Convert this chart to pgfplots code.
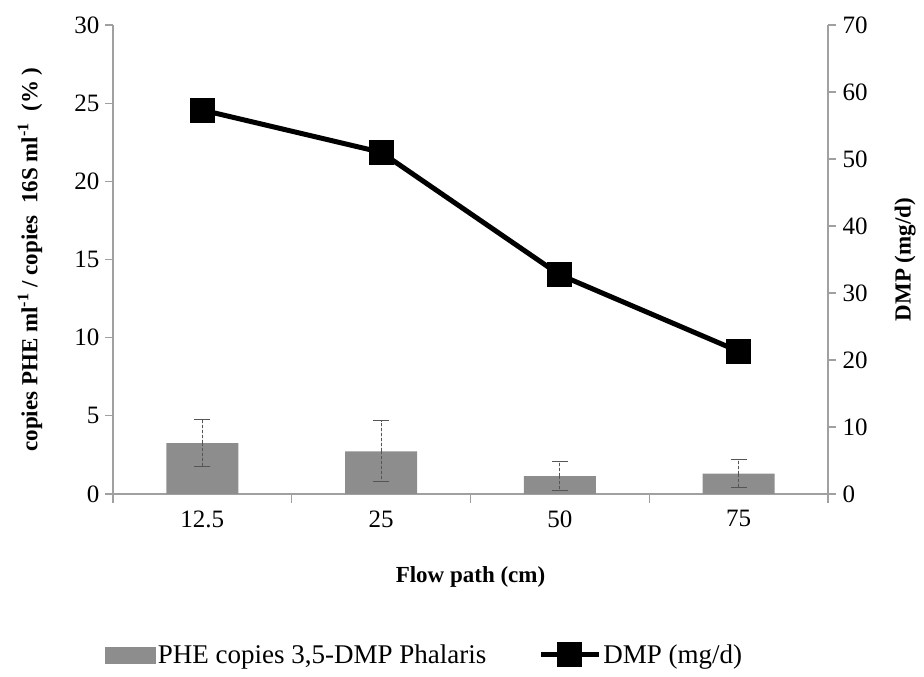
\documentclass[border=0pt]{standalone}
\usepackage{fontspec}
\setmainfont{Liberation Serif}
\usepackage{pgfplots}
\pgfplotsset{compat=1.18}
\definecolor{axisgray}{RGB}{160,160,160}
\definecolor{bargray}{RGB}{141,141,141}
\definecolor{errgray}{RGB}{85,85,85}
\begin{document}
\begin{tikzpicture}[font=\fontsize{25}{28}\selectfont]
\begin{axis}[
  name=ax,
  scale only axis, width=715pt, height=469pt,
  xmin=-0.5, xmax=3.5, ymin=0, ymax=30,
  axis y line*=left, axis x line*=bottom,
  axis line style={axisgray, line width=1.2pt, -},
  xtick={0,1,2,3}, xticklabels={12.5,25,50,75},
  minor xtick={-0.5,0.5,1.5,2.5,3.5},
  ytick={0,5,...,30},
  tick style={axisgray, line width=1.2pt},
  major x tick style={draw=none},
  tick align=outside, major tick length=8pt, minor tick length=9pt,
  /pgf/number format/assume math mode=true,
  xticklabel style={yshift=-5pt},
  yticklabel style={xshift=-2pt},
  every axis y label/.style={at={(axis description cs:-0.116,0.5)}, rotate=90, anchor=center, font=\bfseries\fontsize{23}{25}\selectfont},
  every axis x label/.style={at={(axis description cs:0.5,-0.177)}, anchor=center, font=\bfseries\fontsize{23}{25}\selectfont},
  ylabel={copies PHE ml\textsuperscript{-1} / copies~~16S ml\textsuperscript{-1}~~(\%~)},
  xlabel={Flow path (cm)},
]
\addplot[ybar, bar width=72pt, fill=bargray, draw=none,
  error bars/.cd, y dir=both, y explicit,
  error bar style={errgray, densely dashed, line width=1pt},
  error mark options={rotate=90, mark size=8pt, errgray, line width=1pt}]
  coordinates {
  (0,3.26) +- (0,1.50)
  (1,2.73) +- (0,1.95)
  (2,1.15) +- (0,0.90)
  (3,1.31) +- (0,0.90)
  };
\end{axis}
\begin{axis}[
  scale only axis, width=715pt, height=469pt,
  xmin=-0.5, xmax=3.5, ymin=0, ymax=70,
  axis y line*=right, axis x line=none,
  axis line style={axisgray, line width=1.2pt, -},
  ytick={0,10,...,70},
  tick style={axisgray, line width=1.2pt},
  tick align=outside, major tick length=8pt,
  /pgf/number format/assume math mode=true,
  yticklabel style={xshift=3pt},
  every axis y label/.style={at={(axis description cs:1.108,0.5)}, rotate=90, anchor=center, font=\bfseries\fontsize{23}{25}\selectfont},
  ylabel={DMP (mg/d)},
  legend style={at={(axis description cs:0.436,-0.343)}, anchor=center, draw=none,
    legend columns=2, nodes={inner xsep=2pt, inner ysep=2pt},
    /tikz/every even column/.append style={column sep=50pt},
    font=\fontsize{27}{30}\selectfont},
]
\addlegendimage{legend image code/.code={\fill[bargray] (0pt,-8pt) rectangle (50pt,8pt);}}
\addlegendentry{PHE copies 3,5-DMP Phalaris}
\addplot[black, line width=5pt, mark=square*, mark size=10pt, mark options={solid},
  legend image code/.code={\draw[black, line width=5pt] (0pt,0pt) -- (58pt,0pt); \fill[black] (19pt,-10pt) rectangle (39pt,10pt);}]
  coordinates {(0,57.3) (1,51.0) (2,32.7) (3,21.3)};
\addlegendentry{DMP (mg/d)}
\end{axis}
\useasboundingbox ([xshift=-113pt,yshift=-183pt]ax.south west) rectangle ++(924pt,677pt);
\end{tikzpicture}
\end{document}
